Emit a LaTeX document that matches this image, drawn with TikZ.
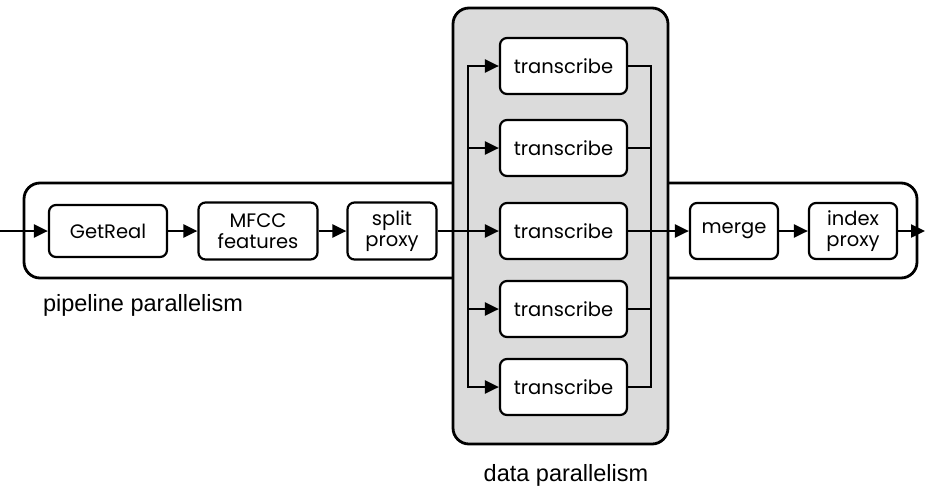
\documentclass[tikz,border=0pt]{standalone}
\usepackage{fontspec}
\setmainfont{Liberation Sans}
\newfontfamily\boxfont{Poppins}
\usetikzlibrary{positioning, arrows.meta, backgrounds}

\begin{document}
\begin{tikzpicture}[x=1pt, y=-1pt,
    line width=2.4pt,
    stage/.style={draw, rounded corners=7pt, fill=white, line width=2.2pt, align=center, inner sep=1pt,
        font=\boxfont\fontsize{19.5}{21}\selectfont},
    flow/.style={-{Triangle[length=14pt, width=13pt]}},
    bus/.style={line cap=rect},
    group/.style={draw, rounded corners=16pt, line width=2.8pt},
    caption/.style={font=\fontsize{23.5}{26}\selectfont}
]
\useasboundingbox (0,0) rectangle (925,490);
% groups
\node[group, minimum width=893pt, minimum height=95pt] (pipe) at (470.5,230.5) {};
\node[group, fill=black!14, minimum width=215pt, minimum height=436pt] (data) at (560.5,226) {};
\node[caption] (pipecap) at (143,305) {pipeline parallelism};
\node[caption] (datacap) at (566,475) {data parallelism};
% pipeline stages
\node[stage, minimum width=118pt, minimum height=52pt] (get) at (108,231) {GetReal};
\node[stage, minimum width=119pt, minimum height=57pt] (mfcc) at (258,231) {MFCC\\features};
\node[stage, minimum width=89pt, minimum height=57pt] (split) at (392,231) {split\\proxy};
\node[stage, minimum width=88pt, minimum height=56pt] (merge) at (734,231) {merge};
\node[stage, minimum width=88pt, minimum height=56pt] (index) at (853,231) {index\\proxy};
\coordinate (in) at (0,231);
\coordinate (out) at (925,231);
\draw[flow] (in) -- (get);
\draw[flow] (get) -- (mfcc);
\draw[flow] (mfcc) -- (split);
\draw[flow] (merge) -- (index);
\draw[flow] (index) -- (out);
% replicas
\foreach \i/\y in {1/66,2/148,3/231,4/309,5/387}{
    \node[stage, minimum width=127pt, minimum height=56pt] (tr\i) at (563.5,\y) {transcribe};
    \coordinate (fan\i) at (468,\y);
    \coordinate (join\i) at (651,\y);
    \draw[flow] (fan\i) -- (tr\i);
    \draw (tr\i) -- (join\i);
}
\draw[bus] (fan1) -- (fan5);
\draw[bus] (join1) -- (join5);
\draw (split) -- (fan3);
\draw[flow] (join3) -- (merge);
\end{tikzpicture}
\end{document}
